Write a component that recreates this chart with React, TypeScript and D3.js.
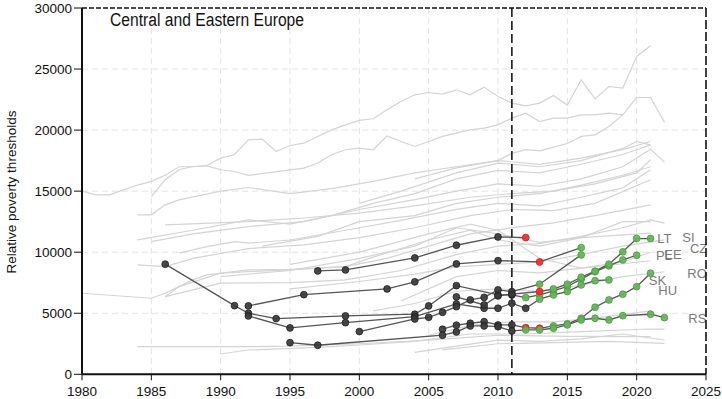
import React from "react";
import * as d3 from "d3";

const xTicks = [1980, 1985, 1990, 1995, 2000, 2005, 2010, 2015, 2020, 2025];
const yTicks = [0, 5000, 10000, 15000, 20000, 25000, 30000];
const title = "Central and Eastern Europe";
const yTitle = "Relative poverty thresholds";
const cutYear = 2011;

// [year, value, source] source: 0 = black, 1 = red, 2 = green
type P = [number, number, number];
const SI: P[] = [[1997, 8470, 0], [1999, 8550, 0], [2004, 9530, 0], [2007, 10570, 0], [2010, 11250, 0], [2012, 11200, 1]];
const CZ: P[] = [[1992, 5600, 0], [1996, 6525, 0], [2002, 6990, 0], [2004, 7570, 0], [2007, 9040, 0], [2010, 9310, 0], [2013, 9200, 1], [2016, 10380, 2]];
const PL: P[] = [[1986, 9020, 0], [1991, 5620, 0], [1992, 5000, 0], [1994, 4560, 0], [1999, 4780, 0], [2004, 4920, 0], [2005, 5600, 0], [2007, 7260, 0], [2010, 6500, 0], [2011, 6500, 0], [2012, 6285, 2], [2013, 6500, 2], [2014, 6830, 2], [2015, 7190, 2], [2016, 7790, 2], [2017, 8400, 2], [2018, 8880, 2], [2019, 9370, 2], [2020, 9750, 2]];
const HU: P[] = [[1992, 4780, 0], [1995, 3800, 0], [1999, 4230, 0], [2004, 4720, 0], [2007, 5760, 0], [2009, 5410, 0], [2010, 5410, 0], [2011, 5820, 0], [2012, 5410, 0], [2013, 6150, 2], [2014, 6500, 2], [2015, 6780, 2], [2016, 7320, 2], [2017, 7670, 2], [2018, 7730, 2]];
const EE: P[] = [[2000, 3500, 0], [2004, 4530, 0], [2005, 4670, 0], [2006, 5080, 0], [2007, 5540, 0], [2008, 6090, 0], [2009, 6300, 0], [2010, 6910, 0], [2011, 6770, 0], [2013, 7380, 2], [2016, 9780, 2]];
const LT: P[] = [[2007, 6340, 0], [2009, 5680, 0], [2010, 6420, 0], [2011, 6560, 0], [2013, 6780, 1], [2014, 6997, 2], [2015, 7380, 2], [2016, 7950, 2], [2017, 8450, 2], [2018, 9020, 2], [2019, 10030, 2], [2020, 11120, 2], [2021, 11120, 2]];
const RO: P[] = [[2006, 3690, 0], [2007, 4020, 0], [2008, 4180, 0], [2009, 4310, 0], [2010, 4040, 0], [2011, 4040, 0], [2012, 3820, 1], [2013, 3770, 1], [2014, 3960, 2], [2015, 4130, 2], [2016, 4590, 2], [2017, 5490, 2], [2018, 6090, 2], [2019, 6560, 2], [2020, 7180, 2], [2021, 8280, 2]];
const RS: P[] = [[1995, 2590, 0], [1997, 2380, 0], [2006, 3200, 0], [2007, 3470, 0], [2008, 3960, 0], [2009, 3960, 0], [2010, 3900, 0], [2011, 3550, 0], [2012, 3640, 2], [2013, 3640, 2], [2014, 3770, 2], [2015, 4045, 2], [2016, 4450, 2], [2017, 4590, 2], [2018, 4450, 2], [2019, 4800, 2], [2021, 4920, 2], [2022, 4640, 2]];
const highlighted = [SI, CZ, PL, HU, EE, LT, RO, RS];

// label: name, year position, value position
const labelNames = ["LT", "SI", "CZ", "PL", "EE", "RO", "SK", "HU", "RS"];
const labelYears = [2021.49, 2023.29, 2023.84, 2021.39, 2021.99, 2023.65, 2020.87, 2021.56, 2023.72];
const labelValues = [11115, 11197, 10328, 9754, 9836, 8221, 7672, 6828, 4590];

// grey background countries: [year, value]
type G = [number, number];
const grey01: G[] = [[1980, 15000], [1981, 14700], [1982, 14700], [1983, 15100], [1984, 15500], [1985, 15800], [1986, 16300], [1987, 17000], [1988, 17000], [1989, 17100], [1990, 17700], [1991, 18000], [1992, 19200], [1993, 19260], [1994, 18250], [1995, 18740], [1996, 18930], [1997, 19480], [1998, 20020], [1999, 20430], [2000, 20790], [2001, 20930], [2002, 21660], [2003, 22340], [2004, 22890], [2005, 23080], [2006, 22950], [2007, 23300], [2008, 22890], [2009, 23520], [2010, 22750], [2011, 22210], [2012, 21990], [2013, 22210], [2014, 22840], [2015, 22050], [2016, 24120], [2017, 22560], [2018, 23570], [2019, 23440], [2020, 26030], [2021, 26910]];
const grey02: G[] = [[1985, 14560], [1986, 15930], [1987, 16750], [1988, 17020], [1989, 17070], [1990, 16750], [1991, 16610], [1992, 16300], [1995, 16750], [1996, 16890], [1997, 17300], [1998, 17980], [1999, 18390], [2000, 18520], [2001, 18390], [2002, 19530], [2003, 19070], [2004, 18660], [2005, 19070], [2006, 19480], [2007, 19750], [2008, 20020], [2009, 20160], [2010, 20430], [2011, 20980], [2012, 21390], [2013, 20700], [2014, 20980], [2015, 20980], [2016, 21250], [2017, 21250], [2018, 21390], [2019, 21250]];
const grey03: G[] = [[2004, 16000], [2007, 16900], [2010, 17500], [2011, 18100], [2012, 18400], [2013, 18300], [2014, 18600], [2015, 18900], [2016, 19480], [2017, 19610], [2018, 20290], [2019, 21250], [2020, 22670], [2021, 22670], [2022, 20650]];
const grey04: G[] = [[1984, 13060], [1985, 13060], [1986, 13880], [1987, 14290], [1990, 15000], [1992, 15300], [1995, 14800], [1998, 15200], [2001, 15800], [2004, 16500], [2007, 17000], [2010, 17500], [2013, 17200], [2016, 17700], [2019, 18400], [2021, 19070]];
const grey05: G[] = [[1984, 11010], [1988, 11800], [1992, 12650], [1995, 12300], [1998, 13000], [2001, 14000], [2004, 14800], [2007, 16000], [2010, 16700], [2013, 16500], [2016, 17200], [2019, 18000], [2021, 18790]];
const grey06: G[] = [[1985, 10870], [1988, 11500], [1992, 12100], [1996, 12500], [2000, 13500], [2004, 14300], [2007, 15000], [2010, 15600], [2013, 15400], [2016, 16000], [2019, 17000], [2021, 18440], [2022, 17380]];
const grey07: G[] = [[1986, 12240], [1992, 12510], [1996, 12800], [2000, 13200], [2004, 13800], [2008, 14500], [2011, 14800], [2014, 15000], [2017, 15600], [2020, 16500], [2021, 17570]];
const grey08: G[] = [[1987, 9920], [1989, 10460], [1991, 10870], [1992, 10740], [1995, 11000], [1999, 11800], [2003, 12600], [2007, 13500], [2010, 14000], [2013, 13800], [2016, 14500], [2019, 15270], [2021, 16750]];
const grey09: G[] = [[1984, 8960], [1986, 8820], [1988, 9500], [1992, 10300], [1996, 10600], [2000, 11200], [2004, 12000], [2008, 13000], [2011, 13500], [2014, 13400], [2017, 14000], [2021, 15930]];
const grey10: G[] = [[1980, 6640], [1985, 6230], [1986, 6640], [1987, 7180], [1988, 7730], [1989, 8140], [1992, 8550], [1995, 8600], [1999, 8820], [2002, 9500], [2005, 10500], [2008, 11500], [2011, 12000], [2014, 12400], [2017, 13000], [2021, 13880]];
const grey11: G[] = [[1986, 6360], [1990, 7460], [1995, 7510], [1999, 7730], [2003, 8500], [2007, 9800], [2010, 10500], [2013, 10700], [2016, 11300], [2019, 12000], [2021, 12650], [2022, 12380]];
const grey12: G[] = [[1986, 6360], [1987, 7180], [1990, 8280], [1992, 8410], [1995, 8550], [1999, 8820], [2001, 9600], [2005, 11000], [2008, 11800], [2010, 11000], [2013, 10500], [2016, 11200], [2021, 11560]];
const grey13: G[] = [[1995, 7000], [2000, 7600], [2004, 8200], [2007, 8800], [2010, 9000], [2013, 9200], [2016, 9800], [2019, 10500], [2022, 11010]];
const grey14: G[] = [[1995, 9000], [2000, 10000], [2005, 11500], [2008, 12300], [2010, 11800], [2013, 9500], [2016, 8700], [2019, 9200], [2021, 10000]];
const grey15: G[] = [[1990, 8000], [1995, 8500], [2000, 9500], [2004, 10500], [2007, 12000], [2010, 11500], [2013, 10800], [2016, 11200], [2019, 12500], [2021, 12500]];
const grey16: G[] = [[1993, 10500], [1997, 11300], [2000, 12500], [2004, 13000], [2007, 14000], [2010, 14500], [2013, 14800], [2016, 15500], [2019, 16300], [2021, 17000]];
const grey17: G[] = [[2000, 14000], [2003, 15000], [2007, 16500], [2010, 17300], [2013, 17000], [2016, 17500], [2019, 18500], [2020, 19070], [2021, 18790]];
const grey18: G[] = [[1984, 2260], [1992, 2260], [1995, 2300], [2000, 2500], [2005, 2800], [2010, 3200], [2015, 3100], [2021, 3080]];
const grey19: G[] = [[1990, 1660], [1992, 1990], [1997, 2200], [2000, 2400], [2004, 2700], [2008, 3300], [2012, 3300], [2016, 3500], [2021, 3710], [2022, 3700]];
const grey20: G[] = [[2004, 1800], [2007, 2300], [2010, 2800], [2013, 2700], [2016, 2900], [2019, 3300], [2022, 2810]];
const grey21: G[] = [[2006, 2000], [2010, 2500], [2014, 2600], [2018, 2700], [2022, 2540]];
const grey22: G[] = [[2005, 3200], [2008, 4000], [2011, 4300], [2014, 4300], [2017, 4600], [2021, 5200]];
const grey23: G[] = [[2001, 5200], [2004, 5800], [2007, 6800], [2010, 7000], [2013, 6800], [2016, 7300], [2019, 8000], [2022, 8400]];
const grey24: G[] = [[2003, 6000], [2007, 8000], [2010, 8500], [2013, 8300], [2016, 8700], [2021, 9300]];
const greyLines = [grey01, grey02, grey03, grey04, grey05, grey06, grey07, grey08, grey09, grey10, grey11, grey12, grey13, grey14, grey15, grey16, grey17, grey18, grey19, grey20, grey21, grey22, grey23, grey24];

const srcFill = ["#3a3a3a", "#f22a2a", "#62b557"];
const srcStroke = ["#1e1e1e", "#d81818", "#4a9b42"];

export default function App() {
  const W = 722, H = 399;
  const left = 82, right = 706, top = 8, bottom = 374.3;
  const x = d3.scaleLinear().domain([1980, 2025]).range([left, right]);
  const y = d3.scaleLinear().domain([0, 30000]).range([bottom, top]);
  const line = d3.line<number[]>().x((d) => x(d[0])).y((d) => y(d[1]));
  const font = "'Liberation Sans', Arial, sans-serif";

  return (
    <svg width={W} height={H} style={{ position: "absolute", left: 0, top: 0, background: "#fff" }} fontFamily={font}>
      {/* grid */}
      {xTicks.filter((t) => t > 1980 && t < 2025).map((t) => (
        <line key={"gx" + t} x1={x(t)} x2={x(t)} y1={top} y2={bottom} stroke="#e3e3e3" strokeDasharray="6,4" strokeWidth={1} />
      ))}
      {yTicks.filter((t) => t > 0 && t < 30000).map((t) => (
        <line key={"gy" + t} x1={left} x2={right} y1={y(t)} y2={y(t)} stroke="#e3e3e3" strokeDasharray="6,4" strokeWidth={1} />
      ))}
      {/* grey background lines */}
      {greyLines.map((g, i) => (
        <path key={"g" + i} d={line(g) || ""} fill="none" stroke="#d4d4d4" strokeWidth={1.2} />
      ))}
      {/* cut line */}
      <line x1={x(cutYear)} x2={x(cutYear)} y1={top} y2={bottom} stroke="#1a1a1a" strokeWidth={1.6} strokeDasharray="9,4" />
      {/* highlighted lines */}
      {highlighted.map((s, i) => (
        <path key={"h" + i} d={line(s) || ""} fill="none" stroke="#555" strokeWidth={1.3} />
      ))}
      {highlighted.map((s, i) =>
        s.map((p, j) => (
          <circle key={"c" + i + "-" + j} cx={x(p[0])} cy={y(p[1])} r={3.4} fill={srcFill[p[2]]} stroke={srcStroke[p[2]]} strokeWidth={0.8} fillOpacity={0.92} />
        ))
      )}
      {/* country labels */}
      {labelNames.map((n, i) => (
        <text key={"l" + n} x={x(labelYears[i])} y={y(labelValues[i])} dy="0.35em" fontSize={13} fill="#7a7a7a">{n}</text>
      ))}
      {/* frame */}
      <line x1={left} x2={right} y1={top} y2={top} stroke="#111" strokeWidth={1.6} strokeDasharray="5,2" />
      <line x1={right} x2={right} y1={top} y2={bottom} stroke="#111" strokeWidth={1.6} strokeDasharray="9,3" />
      <line x1={left} x2={left} y1={top} y2={bottom} stroke="#111" strokeWidth={2} />
      <line x1={left} x2={right} y1={bottom} y2={bottom} stroke="#111" strokeWidth={2} />
      {/* y axis */}
      {yTicks.map((t) => (
        <g key={"yt" + t}>
          <line x1={left - 8} x2={left} y1={y(t)} y2={y(t)} stroke="#111" strokeWidth={1} />
          <text x={left - 10} y={y(t)} dy="0.35em" textAnchor="end" fontSize={13.5} fill="#111">{t}</text>
        </g>
      ))}
      {/* x axis */}
      {xTicks.map((t) => (
        <g key={"xt" + t}>
          <line x1={x(t)} x2={x(t)} y1={bottom} y2={bottom + 6} stroke="#111" strokeWidth={1} />
          <text x={x(t)} y={396} textAnchor="middle" fontSize={13.5} fill="#111">{t}</text>
        </g>
      ))}
      <text transform={`translate(16, ${192}) rotate(-90)`} textAnchor="middle" fontSize={13.5} fill="#111">{yTitle}</text>
      <text x={110} y={26} fontSize={18} textLength={194} lengthAdjust="spacingAndGlyphs" fill="#111">{title}</text>
    </svg>
  );
}
